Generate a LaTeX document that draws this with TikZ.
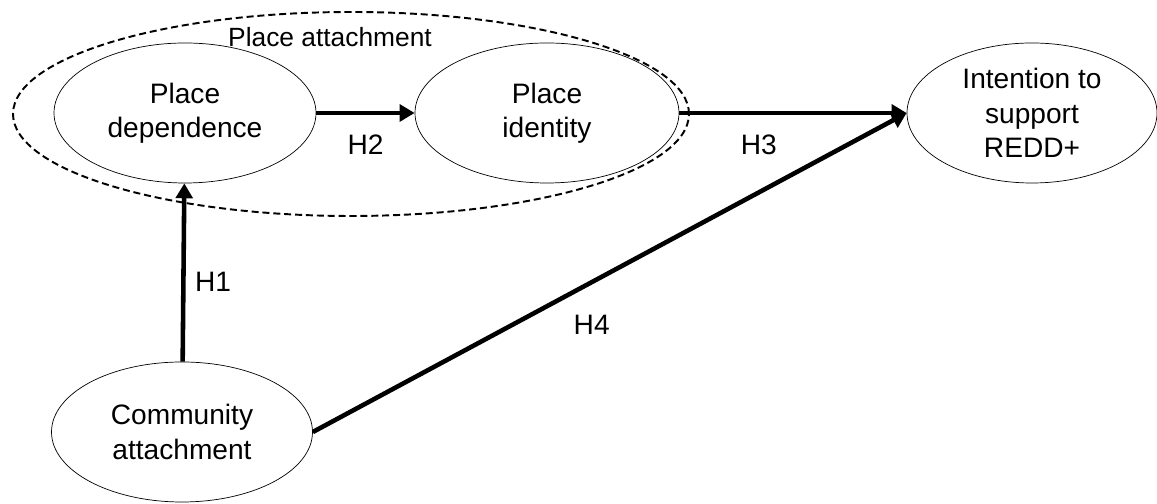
\documentclass[tikz,border=0pt]{standalone}
\usepackage{fontspec}
\setmainfont{Liberation Sans}
\usepackage{tikz}
\usetikzlibrary{shapes,arrows.meta}
\usetikzlibrary{positioning}

\begin{document}
\begin{tikzpicture} [
                font=\fontsize{16}{19.5}\selectfont,
                construct/.style = {draw, ellipse, thin, align=center, inner sep=0pt, minimum height=2.8cm},
                group/.style = {draw, ellipse, line width=1.1pt, dash pattern=on 4pt off 2.2pt, inner sep=0pt},
                path/.style = {-{Triangle[length=8.5pt,width=9.5pt]}, line width=2.6pt}
            ]
            \useasboundingbox (0,0) rectangle (23.14,10.08);
            \node (pa) at (7.02, 7.80) [group, minimum width=13.52cm, minimum height=4.08cm] {};
            \node (palab) at (6.60, 9.34) {\fontsize{15}{18}\selectfont Place attachment};
            \node (pd) at (3.70, 7.82) [construct, minimum width=5.24cm] {Place\\dependence};
            \node (pi) at (10.94, 7.82) [construct, minimum width=5.28cm] {Place\\identity};
            \node (it) at (20.64, 7.82) [construct, minimum width=5.0cm] {Intention to\\support\\REDD+};
            \node (ca) at (3.64, 1.44) [construct, minimum width=5.22cm] {Community\\attachment};
            \draw [path] (ca) -- node[pos=0.45, right=2pt] {H1} (pd);
            \draw [path] (pd) -- node[below=8pt] {H2} (pi);
            \draw [path] (pi) -- node[pos=0.35, below=8pt] {H3} (it.west);
            \draw [path] (ca.east) -- node[pos=0.44, xshift=10pt, yshift=-19pt] {H4} (it.west);
        \end{tikzpicture}
\end{document}
